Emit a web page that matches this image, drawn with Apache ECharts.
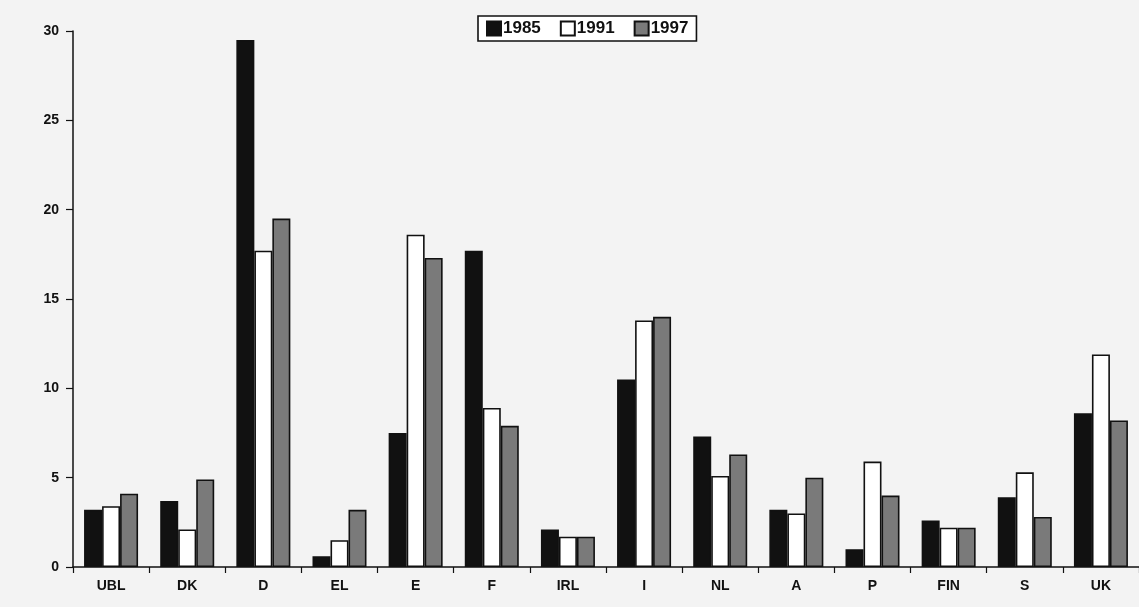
<!DOCTYPE html>
<html>
<head>
<meta charset="utf-8">
<script src="https://cdn.jsdelivr.net/npm/echarts@6/dist/echarts.min.js"></script>
<style>
  html, body { margin: 0; padding: 0; background: #f3f3f3; }
  #chart { width: 1139px; height: 607px; }
</style>
</head>
<body>
<div id="chart"></div>
<script>
// countries (x axis)
var categories = ['UBL', 'DK', 'D', 'EL', 'E', 'F', 'IRL', 'I', 'NL', 'A', 'P', 'FIN', 'S', 'UK']
// values
var values1985 = [3.2, 3.7, 29.5, 0.6, 7.5, 17.7, 2.1, 10.5, 7.3, 3.2, 1.0, 2.6, 3.9, 8.6]
var values1991 = [3.4, 2.1, 17.7, 1.5, 18.6, 8.9, 1.7, 13.8, 5.1, 3.0, 5.9, 2.2, 5.3, 11.9]
var values1997 = [4.1, 4.9, 19.5, 3.2, 17.3, 7.9, 1.7, 14.0, 6.3, 5.0, 4.0, 2.2, 2.8, 8.2]
var yTicks = [0, 5, 10, 15, 20, 25, 30]

var chartObj = echarts.init(document.getElementById('chart'))

function barSeries(name, data, fill) {
  return {
    name: name,
    type: 'bar',
    data: data,
    barWidth: 18,
    barGap: '0%',
    itemStyle: {
      color: fill,
      borderColor: '#111',
      borderWidth: 1.6
    }
  }
}

var option = {
  animation: false,
  backgroundColor: '#f3f3f3',
  textStyle: { fontFamily: 'Liberation Sans, Arial, sans-serif' },
  legend: {
    left: 478,
    top: 16,
    icon: 'rect',
    itemWidth: 14,
    itemHeight: 14,
    itemGap: 19,
    padding: [4, 8],
    backgroundColor: '#fff',
    borderColor: '#111',
    borderWidth: 1.6,
    textStyle: { fontSize: 17, fontWeight: 'bold', color: '#111', padding: [0, 0, 0, -3] },
    data: ['1985', '1991', '1997']
  },
  grid: {
    left: 73,
    top: 31,
    width: 1071,
    height: 536
  },
  xAxis: {
    type: 'category',
    data: categories,
    axisLine: { lineStyle: { color: '#111', width: 1.5 } },
    axisTick: { show: true, length: 6, lineStyle: { color: '#111', width: 1.2 } },
    axisLabel: { fontSize: 14, fontWeight: 'bold', color: '#111', margin: 12 }
  },
  yAxis: {
    type: 'value',
    min: yTicks[0],
    max: yTicks[yTicks.length - 1],
    interval: 5,
    axisLine: { show: true, lineStyle: { color: '#111', width: 1.5 } },
    axisTick: { show: true, length: 7, lineStyle: { color: '#111', width: 1.2 } },
    axisLabel: { fontSize: 14, fontWeight: 'bold', color: '#111', margin: 14 },
    splitLine: { show: false }
  },
  series: [
    barSeries('1985', values1985, '#111'),
    barSeries('1991', values1991, '#fff'),
    barSeries('1997', values1997, '#7a7a7a')
  ]
}

chartObj.setOption(option)
</script>
</body>
</html>
